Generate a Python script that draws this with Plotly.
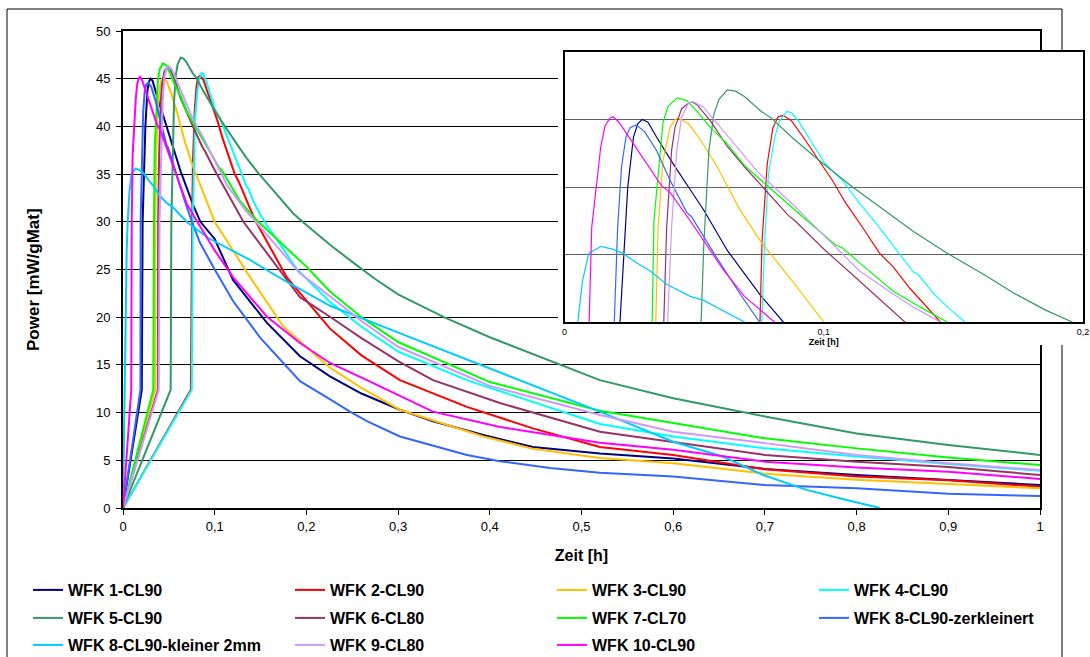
import plotly.graph_objects as go

W, H = 1090, 657

# ---- series names / colours ----
names = [
    "WFK 1-CL90", "WFK 2-CL90", "WFK 3-CL90", "WFK 4-CL90",
    "WFK 5-CL90", "WFK 6-CL80", "WFK 7-CL70", "WFK 8-CL90-zerkleinert",
    "WFK 8-CL90-kleiner 2mm", "WFK 9-CL80", "WFK 10-CL90",
]
colors = [
    "#000080", "#FF0000", "#FFC000", "#00FFFF",
    "#339966", "#993366", "#00FF00", "#3366FF",
    "#00CCFF", "#CC99FF", "#FF00FF",
]

# ---- measured heat flow: time [h] / power [mW/gMat] ----
x_wfk1 = [0, 0.0205, 0.0214, 0.0244, 0.0266, 0.0283, 0.030, 0.0322, 0.0355, 0.0413, 0.0478, 0.0537,
          0.0628, 0.0674, 0.0759, 0.0844, 0.1, 0.12, 0.157, 0.193, 0.2257, 0.26, 0.302, 0.338, 0.393, 0.447,
          0.52, 0.6, 0.7, 0.8, 0.9, 1.0]
y_wfk1 = [0, 12.4, 30, 40, 43.7, 44.7, 45.0, 44.8, 43.7, 41.9, 40.0, 38.3,
          35.3, 34.1, 31.9, 30, 28.2, 23.9, 19.4, 15.9, 13.8, 12.0, 10.3, 9.1, 7.65, 6.4,
          5.7, 5.2, 4.1, 3.46, 2.9, 2.41]

x_wfk2 = [0, 0.0740, 0.0754, 0.0762, 0.0782, 0.0804, 0.0824, 0.0844, 0.0876, 0.0928, 0.098, 0.1033,
          0.1085, 0.115, 0.1215, 0.1267, 0.1332, 0.1385, 0.145, 0.1785, 0.2257, 0.26, 0.302, 0.375, 0.447,
          0.52, 0.6, 0.7, 0.8, 0.9, 1.0]
y_wfk2 = [0, 12.4, 30, 36, 41.7, 44.4, 45.2, 45.3, 44.9, 43.5, 42, 40.5,
          38.8, 37, 35.1, 34.1, 32.5, 31.4, 30, 24.2, 18.8, 16.0, 13.4, 10.6, 8.35,
          6.4, 5.56, 4.05, 3.3, 2.9, 2.23]

x_wfk3 = [0, 0.0350, 0.0352, 0.0361, 0.038, 0.0407, 0.0426, 0.0439, 0.0478, 0.0524, 0.0589, 0.0661,
          0.0674, 0.0759, 0.0876, 0.1, 0.1385, 0.175, 0.2257, 0.26, 0.302, 0.393, 0.447, 0.52,
          0.6, 0.7, 0.8, 0.9, 1.0]
y_wfk3 = [0, 12.4, 30, 37, 42, 44.4, 45, 45.1, 44.7, 43.5, 41.5, 38.8,
          38.4, 35.9, 33.1, 30, 24.2, 19.0, 14.7, 12.6, 10.3, 7.5, 6.2, 5.24,
          4.7, 3.6, 2.95, 2.5, 2.06]

x_wfk4 = [0, 0.0750, 0.0761, 0.0772, 0.0787, 0.0811, 0.083, 0.0857, 0.0876, 0.0902, 0.0954, 0.1006,
          0.1072, 0.1137, 0.1202, 0.1267, 0.1346, 0.1365, 0.1424, 0.149, 0.1544, 0.19, 0.2257, 0.26, 0.3,
          0.375, 0.52, 0.6, 0.7, 0.8, 0.9, 1.0]
y_wfk4 = [0, 12.4, 30, 36, 41, 43.7, 44.9, 45.6, 45.5, 44.9, 43.3, 41.7,
          40.5, 38.8, 37.3, 35.7, 33.7, 33.5, 32.1, 30.9, 30, 25.0, 21.6, 19.0, 16.4,
          13.4, 8.8, 7.5, 6.25, 5.4, 4.6, 3.9]

x_wfk5 = [0, 0.0520, 0.0527, 0.0537, 0.0557, 0.0576, 0.0596, 0.0628, 0.066, 0.0694, 0.0759, 0.0798,
          0.0876, 0.098, 0.1111, 0.1267, 0.1346, 0.1476, 0.1619, 0.1737, 0.1854, 0.1958, 0.2257, 0.25,
          0.275, 0.3, 0.35, 0.4, 0.45, 0.52, 0.6, 0.7, 0.8, 0.9, 1.0]
y_wfk5 = [0, 12.4, 30, 35.6, 42.7, 45.4, 46.5, 47.2, 47.1, 46.7, 45.6, 45.1,
          43.7, 42, 40, 37.8, 36.7, 35.1, 33.5, 32.1, 30.9, 30, 27.6, 25.8,
          24.0, 22.4, 20.0, 17.9, 16.0, 13.4, 11.5, 9.6, 7.8, 6.6, 5.56]

x_wfk6 = [0, 0.0380, 0.0383, 0.0394, 0.0413, 0.0426, 0.0452, 0.0478, 0.0492, 0.0511, 0.0563, 0.0628,
          0.0694, 0.0772, 0.0863, 0.0889, 0.1006, 0.1111, 0.1215, 0.1313, 0.193, 0.2257, 0.26, 0.3, 0.338,
          0.411, 0.52, 0.6, 0.7, 0.8, 0.9, 1.0]
y_wfk6 = [0, 12.4, 30, 37, 42.7, 44.4, 45.8, 46.2, 46.3, 46.1, 44.9, 43,
          41.5, 39.8, 37.9, 37.5, 35.3, 33.5, 31.7, 30, 22.1, 20.05, 17.8, 15.4, 13.4,
          11.0, 8.0, 6.95, 5.56, 4.85, 4.3, 3.46]

x_wfk7 = [0, 0.0330, 0.0338, 0.0345, 0.038, 0.040, 0.0435, 0.0472, 0.0511, 0.0563, 0.0628, 0.0694,
          0.0746, 0.0811, 0.0876, 0.0954, 0.1046, 0.1072, 0.1137, 0.1267, 0.1372, 0.1476, 0.2, 0.2257,
          0.26, 0.3, 0.4, 0.52, 0.6, 0.7, 0.8, 0.9, 1.0]
y_wfk7 = [0, 12.4, 30, 37.5, 44.8, 46.0, 46.6, 46.4, 45.6, 44.4, 43.2, 41.6,
          40.7, 39.6, 38.5, 37.2, 35.7, 35.5, 34.4, 32.3, 31.1, 30, 25.3, 22.7,
          20.0, 17.4, 13.2, 10.2, 8.9, 7.3, 6.25, 5.3, 4.5]

x_wfk8z = [0, 0.0190, 0.0192, 0.0205, 0.022, 0.0237, 0.0253, 0.0276, 0.0309, 0.0355, 0.0407, 0.0472,
           0.049, 0.0576, 0.068, 0.0752, 0.084, 0.1, 0.12, 0.15, 0.193, 0.229, 0.2475, 0.266, 0.302,
           0.375, 0.411, 0.4656, 0.52, 0.6, 0.7, 0.8, 0.9, 1.0]
y_wfk8z = [0, 12.4, 30, 37, 41.5, 43.7, 44.4, 44.6, 44.1, 42.7, 40.5, 38.1,
           37.8, 35.1, 32.0, 30, 27.8, 25.0, 21.7, 17.8, 13.3, 11.2, 10.1, 9.1, 7.5,
           5.56, 4.9, 4.2, 3.7, 3.3, 2.4, 2.06, 1.5, 1.26]

x_wfk8k = [0, 0.0015, 0.0040, 0.0051, 0.007, 0.0094, 0.0113, 0.014, 0.0185, 0.0224, 0.0276, 0.0329,
           0.0394, 0.0485, 0.0537, 0.0615, 0.0694, 0.093, 0.1385, 0.175, 0.2257, 0.26, 0.3, 0.4, 0.52,
           0.6, 0.654, 0.698, 0.7455, 0.789, 0.8255]
y_wfk8k = [0, 12.4, 27, 30, 33.1, 35.1, 35.3, 35.6, 35.4, 35.1, 34.4, 33.8,
           32.8, 31.9, 31.6, 30.8, 30, 28.3, 26.0, 23.9, 21.2, 19.9, 18.4, 14.6, 10.1,
           6.95, 5.4, 3.46, 1.9, 0.84, 0]

x_wfk9 = [0, 0.0390, 0.0398, 0.0413, 0.0433, 0.0452, 0.0478, 0.0498, 0.0537, 0.0589, 0.0654, 0.0746,
          0.0876, 0.1006, 0.1137, 0.1267, 0.1346, 0.145, 0.193, 0.2257, 0.26, 0.3, 0.4, 0.52,
          0.6, 0.7, 0.8, 0.9, 1.0]
y_wfk9 = [0, 12.4, 30, 37, 42.7, 45.2, 46.2, 46.3, 45.9, 44.7, 43.2, 41.1,
          38.8, 36.3, 33.8, 32.1, 31.1, 30, 24.6, 22.2, 19.6, 16.9, 12.8, 9.75,
          8.0, 6.8, 5.56, 4.7, 3.98]

x_wfk10 = [0, 0.0090, 0.0095, 0.0105, 0.014, 0.0156, 0.0175, 0.0188, 0.021, 0.029, 0.0374, 0.0407,
           0.0485, 0.0615, 0.0694, 0.081, 0.1, 0.12, 0.157, 0.193, 0.2257, 0.266, 0.338, 0.411,
           0.52, 0.6, 0.7, 0.8, 0.9, 1.0]
y_wfk10 = [0, 12.4, 30, 37, 43, 44.5, 45.1, 45.2, 44.8, 42.5, 40.1, 39.6,
           37.5, 33.8, 31.9, 30, 27.0, 24.2, 20.05, 17.3, 15.2, 13.4, 10.1, 8.5,
           6.85, 6.1, 4.85, 4.25, 3.8, 3.04]

xs_all = [x_wfk1, x_wfk2, x_wfk3, x_wfk4, x_wfk5, x_wfk6, x_wfk7, x_wfk8z, x_wfk8k, x_wfk9, x_wfk10]
ys_all = [y_wfk1, y_wfk2, y_wfk3, y_wfk4, y_wfk5, y_wfk6, y_wfk7, y_wfk8z, y_wfk8k, y_wfk9, y_wfk10]

# legend rows: four entries per row
legend_ids = ["legend"] * 4 + ["legend2"] * 4 + ["legend3"] * 3


def px(v):
    return v / W


def py(v):
    return 1 - v / H


FONT = "Liberation Sans, Arial, sans-serif"

fig = go.Figure()

# main chart
for name, col, xs, ys, leg in zip(names, colors, xs_all, ys_all, legend_ids):
    fig.add_trace(go.Scatter(
        x=xs, y=ys, mode="lines", name=name, legend=leg,
        line=dict(color=col, width=2), xaxis="x", yaxis="y",
    ))

# white panel behind the zoomed view
fig.add_trace(go.Scatter(x=[], y=[], xaxis="x2", yaxis="y2", showlegend=False, hoverinfo="skip"))

# zoomed view of the first 0.2 h
for name, col, xs, ys in zip(names, colors, xs_all, ys_all):
    fig.add_trace(go.Scatter(
        x=xs, y=ys, mode="lines", name=name, showlegend=False,
        line=dict(color=col, width=1.2), xaxis="x3", yaxis="y3",
    ))

legend_common = dict(
    orientation="h", xanchor="left", yanchor="middle",
    entrywidth=217, entrywidthmode="pixels", itemwidth=30,
    font=dict(family=FONT, size=16, color="black", weight="bold"),
    bgcolor="rgba(0,0,0,0)", borderwidth=0, traceorder="normal",
)

fig.update_layout(
    width=W, height=H,
    margin=dict(l=0, r=0, t=0, b=0, autoexpand=False),
    paper_bgcolor="white", plot_bgcolor="white",
    separators=",.",
    font=dict(family=FONT, size=13, color="black"),
    showlegend=True,
    xaxis=dict(
        domain=[px(123), px(1040)], range=[0, 1], tick0=0, dtick=0.1,
        showgrid=False, zeroline=False,
        showline=True, linewidth=2, linecolor="black", mirror=True,
        ticks="outside", ticklen=5, tickwidth=1, tickcolor="black",
        tickfont=dict(size=13),
        title=dict(text="Zeit [h]", font=dict(size=16, weight="bold"), standoff=17),
        anchor="y",
    ),
    yaxis=dict(
        domain=[py(508), py(31)], range=[0, 50], tick0=0, dtick=5,
        showgrid=True, gridcolor="black", gridwidth=1, zeroline=False,
        showline=True, linewidth=2, linecolor="black", mirror=True,
        ticks="outside", ticklen=5, tickwidth=1, tickcolor="black",
        tickfont=dict(size=13), ticklabelstandoff=3,
        anchor="x",
    ),
    xaxis2=dict(domain=[px(558), 1], range=[0, 1], visible=False, anchor="y2"),
    yaxis2=dict(domain=[py(345), py(50)], range=[0, 1], visible=False, anchor="x2"),
    xaxis3=dict(
        domain=[px(564.5), px(1083)], range=[0, 0.2], tick0=0, dtick=0.1,
        showgrid=False, zeroline=False,
        showline=True, linewidth=2, linecolor="black", mirror=True,
        ticks="", tickfont=dict(size=9),
        title=dict(text="Zeit [h]", font=dict(size=9, weight="bold"), standoff=2),
        anchor="y3",
    ),
    yaxis3=dict(
        domain=[py(322), py(52)], range=[30, 50], tick0=30, dtick=5,
        showgrid=True, gridcolor="#606060", gridwidth=1, zeroline=False,
        showline=True, linewidth=2, linecolor="black", mirror=True,
        ticks="", showticklabels=False,
        anchor="x3",
    ),
    legend=dict(legend_common, x=px(28), y=py(590)),
    legend2=dict(legend_common, x=px(28), y=py(618)),
    legend3=dict(legend_common, x=px(28), y=py(645)),
    annotations=[
        dict(text="Power [mW/gMat]", textangle=-90, xref="paper", yref="paper",
             x=px(33), y=py(280), xanchor="center", yanchor="middle", showarrow=False,
             font=dict(family=FONT, size=17, color="black", weight="bold")),
    ],
    shapes=[
        dict(type="rect", xref="paper", yref="paper",
             x0=px(7), x1=px(1062), y0=py(662), y1=py(9),
             line=dict(color="black", width=1), fillcolor="rgba(0,0,0,0)", layer="below"),
    ],
)

fig.write_html("out.html")
